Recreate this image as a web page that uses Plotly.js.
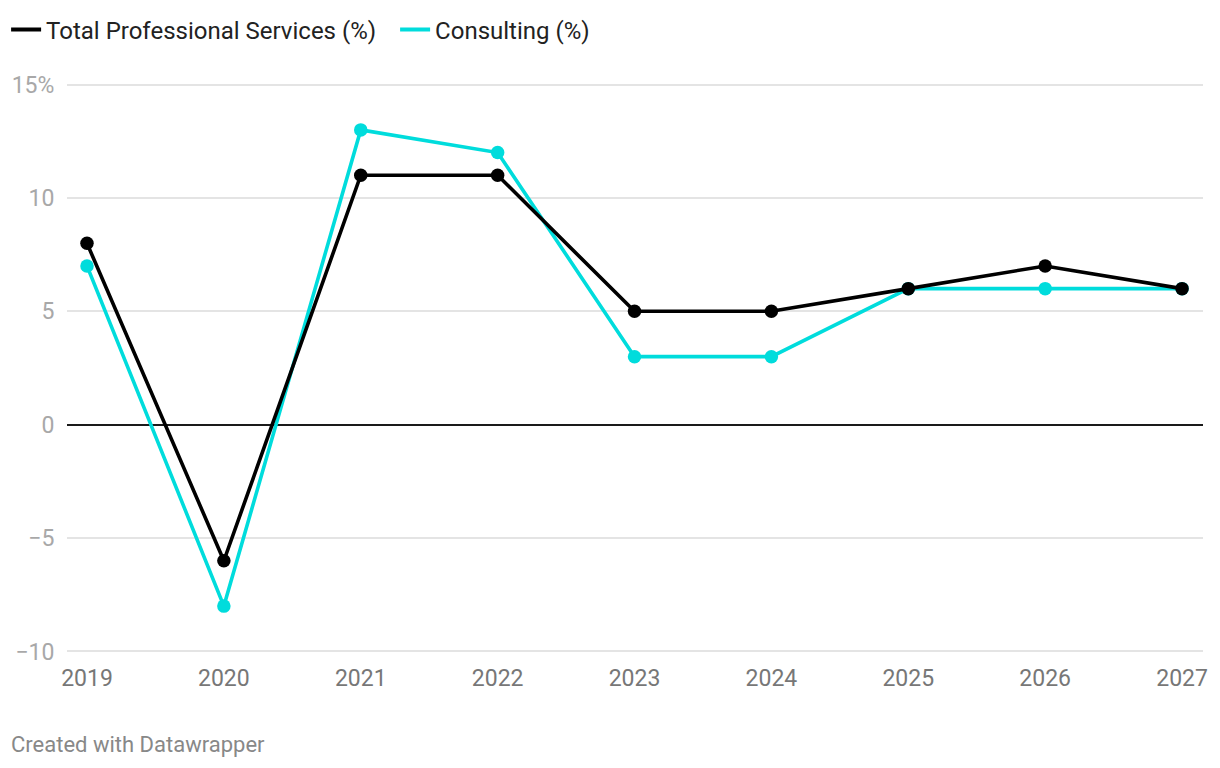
<!DOCTYPE html>
<html>
<head>
<meta charset="utf-8">
<script src="https://cdn.plot.ly/plotly-3.0.1.min.js"></script>
<style>
html,body{margin:0;padding:0;background:#fff;}
#chart{width:1220px;height:768px;}
</style>
</head>
<body>
<div id="chart"></div>
<script>
const years = [2019, 2020, 2021, 2022, 2023, 2024, 2025, 2026, 2027];
const totalProfessional = [8, -6, 11, 11, 5, 5, 6, 7, 6];
const consulting = [7, -8, 13, 12, 3, 3, 6, 6, 6];
const yTickVals = [-10, -5, 0, 5, 10, 15];
const yTickText = ['\u221210', '\u22125', '0', '5', '10', '15%'];
const seriesNames = ['Total Professional Services (%)', 'Consulting (%)'];
const colors = ['#000000', '#00dcdc'];

const traces = [
  {x: years, y: consulting, mode: 'lines+markers', showlegend: false,
   line: {color: colors[1], width: 3.6}, marker: {size: 13.5, color: colors[1]}, hoverinfo: 'x+y'},
  {x: years, y: totalProfessional, mode: 'lines+markers', showlegend: false,
   line: {color: colors[0], width: 3.6}, marker: {size: 13.5, color: colors[0]}, hoverinfo: 'x+y'},
  {x: [null], y: [null], mode: 'lines', name: seriesNames[0], line: {color: colors[0], width: 4}},
  {x: [null], y: [null], mode: 'lines', name: seriesNames[1], line: {color: colors[1], width: 4}}
];

const layout = {
  width: 1220, height: 768,
  paper_bgcolor: '#fff', plot_bgcolor: '#fff',
  font: {family: 'Roboto, sans-serif'},
  margin: {l: 67, r: 17, t: 80, b: 112},
  showlegend: true,
  legend: {orientation: 'h', xref: 'container', yref: 'container', x: 0.005, xanchor: 'left',
    y: 0.961, yanchor: 'middle', entrywidth: 344, entrywidthmode: 'pixels',
    font: {size: 24, color: '#222'}, tracegroupgap: 0, bgcolor: 'rgba(0,0,0,0)'},
  xaxis: {range: [2018.854, 2027.153], tickvals: years, ticktext: years.map(String), automargin: false,
    showgrid: false, zeroline: false, showline: false, ticks: 'outside', ticklen: 1, tickcolor: 'rgba(0,0,0,0)',
    tickfont: {size: 23, color: '#777'}, fixedrange: true},
  yaxis: {range: [-10.2, 15.2], tickvals: yTickVals, ticktext: yTickText, automargin: false,
    showgrid: true, gridcolor: '#e4e4e4', gridwidth: 2, zeroline: true, zerolinecolor: '#1a1a1a', zerolinewidth: 2,
    showline: false, ticks: 'outside', ticklen: 7, tickcolor: 'rgba(0,0,0,0)',
    tickfont: {size: 23, color: '#a8a8a8'}, fixedrange: true},
  annotations: [{text: 'Created with Datawrapper', xref: 'paper', yref: 'paper', x: -0.0511, y: -0.1545,
    xanchor: 'left', yanchor: 'middle', showarrow: false, font: {size: 22, color: '#888'}}]
};

Plotly.newPlot('chart', traces, layout, {displayModeBar: false, staticPlot: true});
</script>
</body>
</html>
